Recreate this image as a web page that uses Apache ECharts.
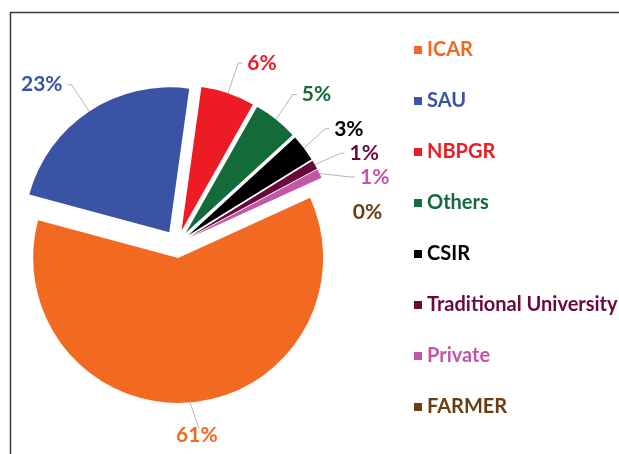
<!DOCTYPE html>
<html>
<head>
<meta charset="utf-8">
<script src="https://cdn.jsdelivr.net/npm/echarts@6/dist/echarts.min.js"></script>
<style>
  html, body { margin: 0; padding: 0; background: #fff; }
  #chart { width: 619px; height: 454px; }
</style>
</head>
<body>
<div id="chart"></div>
<script>
// data (percent shares)
const categories = ["ICAR", "SAU", "NBPGR", "Others", "CSIR", "Traditional University", "Private", "FARMER"];
const shares = [61, 23, 6, 5, 3, 1, 1, 0];
const colors = ["#F26A21", "#3A53A4", "#ED1C24", "#136B3A", "#000000", "#6A0A3A", "#C157A6", "#6B3D14"];

const chart = echarts.init(document.getElementById("chart"));
const font = "Lato, 'Open Sans', sans-serif";

const pieData = categories.map((name, i) => ({
  name: name,
  value: shares[i],
  selected: true,
  itemStyle: { color: colors[i] },
  label: { color: colors[i] }
}));
// big slice: label sits under a straight drop line
pieData[0].labelLine = { length: 22, length2: 0 };
// zero slice: no leader line
pieData[7].labelLine = { show: false };

chart.setOption({
  animation: false,
  graphic: [
    {
      type: "rect",
      shape: { x: 10.5, y: 12.5, width: 700, height: 600 },
      style: { fill: "none", stroke: "#3a3a3a", lineWidth: 1.5 },
      silent: true
    }
  ],
  legend: {
    orient: "vertical",
    left: 409,
    top: 35,
    icon: "rect",
    itemWidth: 8,
    itemHeight: 8,
    itemGap: 31,
    selectedMode: false,
    data: categories.map((name, i) => ({
      name: name,
      textStyle: { color: colors[i] }
    })),
    textStyle: { fontFamily: font, fontWeight: "bold", fontSize: 20 }
  },
  series: [
    {
      type: "pie",
      center: [177, 244],
      radius: 145,
      startAngle: 24.5,
      clockwise: true,
      selectedMode: "multiple",
      selectedOffset: 14,
      avoidLabelOverlap: true,
      label: {
        show: true,
        position: "outside",
        fontFamily: font,
        fontWeight: "bold",
        fontSize: 21,
        formatter: p => Math.round(p.percent) + "%"
      },
      labelLine: {
        show: true,
        length: 32,
        length2: 4,
        lineStyle: { color: "#b5b5b5", width: 1 }
      },
      labelLayout: function (params) {
        if (params.dataIndex === 0 && params.labelLinePoints) {
          const end = params.labelLinePoints[params.labelLinePoints.length - 1];
          return { x: end[0] + 7, y: end[1] + 4, align: "center", verticalAlign: "top" };
        }
        if (params.dataIndex === 7) {
          return { dx: -14, dy: 12 };
        }
      },
      emphasis: { disabled: true },
      data: pieData
    }
  ]
});
</script>
</body>
</html>
